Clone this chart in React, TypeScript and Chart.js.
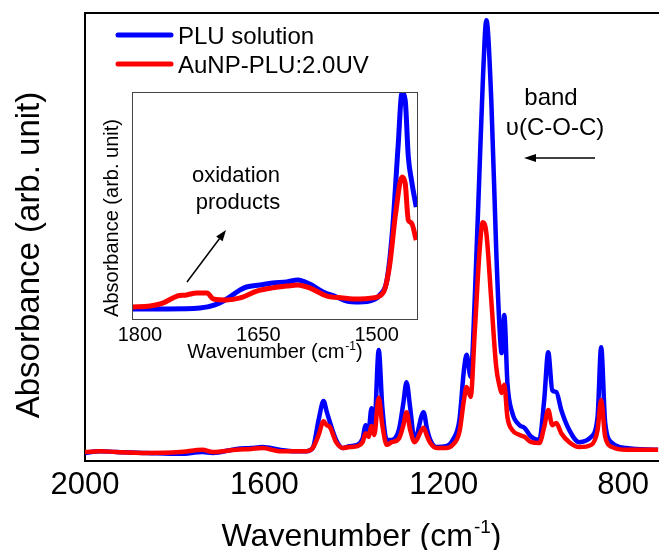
import React, { useEffect, useRef } from "react";
import { Chart, registerables } from "chart.js";

Chart.register(...registerables);

const FONT = "'Liberation Sans', Arial, sans-serif";

// ---------- main spectrum ----------
const MAIN_WN = [
  2000, 1967, 1930, 1862, 1788, 1738, 1715, 1662, 1630, 1604, 1566, 1530, 1506, 1492, 1479, 1468, 1461, 1454,
  1440, 1425, 1410, 1392, 1381, 1374, 1368, 1361, 1355, 1345, 1337, 1327, 1316, 1300, 1290, 1283, 1275, 1265,
  1245, 1237, 1230, 1216, 1195, 1180, 1165, 1155, 1149, 1140, 1131, 1120, 1113, 1105, 1094, 1083, 1075, 1071,
  1065, 1058, 1047, 1031, 1020, 1005, 987, 976, 967, 958, 949, 938, 920, 898, 871, 857, 849, 840, 824, 793, 722,
];
const MAIN_PLU = [
  0.018, 0.022, 0.02, 0.018, 0.016, 0.02, 0.018, 0.027, 0.029, 0.031, 0.025, 0.022, 0.022, 0.029, 0.092, 0.134, 0.11, 0.087,
  0.047, 0.029, 0.033, 0.036, 0.05, 0.08, 0.065, 0.118, 0.074, 0.248, 0.12, 0.047, 0.047, 0.07, 0.13, 0.176, 0.12, 0.047,
  0.109, 0.07, 0.047, 0.031, 0.033, 0.047, 0.092, 0.203, 0.237, 0.188, 0.359, 0.656, 0.844, 0.984, 0.806, 0.471, 0.286, 0.241,
  0.326, 0.174, 0.107, 0.08, 0.074, 0.054, 0.047, 0.136, 0.243, 0.158, 0.154, 0.114, 0.069, 0.042, 0.054, 0.098, 0.254, 0.085, 0.04, 0.029, 0.025,
];
const MAIN_AUNP = [
  0.02, 0.022, 0.02, 0.018, 0.02, 0.025, 0.02, 0.025, 0.027, 0.029, 0.022, 0.022, 0.022, 0.029, 0.058, 0.089, 0.08, 0.076,
  0.042, 0.029, 0.031, 0.033, 0.042, 0.062, 0.054, 0.078, 0.058, 0.141, 0.08, 0.036, 0.042, 0.05, 0.08, 0.109, 0.07, 0.042,
  0.074, 0.055, 0.04, 0.029, 0.029, 0.036, 0.065, 0.136, 0.165, 0.143, 0.286, 0.471, 0.533, 0.509, 0.359, 0.21, 0.165, 0.152,
  0.17, 0.098, 0.069, 0.058, 0.054, 0.042, 0.04, 0.076, 0.114, 0.08, 0.085, 0.062, 0.042, 0.031, 0.036, 0.069, 0.136, 0.054, 0.031, 0.025, 0.025,
];
const MAIN_TICKS = [2000, 1600, 1200, 800];

// ---------- inset (1810 - 1449 cm-1) ----------
const INSET_PLU_WN = [
  1810, 1766, 1724, 1705, 1690, 1673, 1665, 1648, 1632, 1614, 1600, 1585, 1568, 1551, 1538, 1522, 1505, 1496, 1487,
  1480, 1473, 1468, 1464, 1460, 1456, 1450,
];
const INSET_PLU = [
  0.044, 0.044, 0.048, 0.062, 0.088, 0.128, 0.141, 0.15, 0.159, 0.163, 0.172, 0.154, 0.119, 0.097, 0.079, 0.075, 0.084, 0.106, 0.172,
  0.392, 0.758, 0.996, 0.965, 0.714, 0.612, 0.493,
];
const INSET_AUNP_WN = [
  1810, 1787, 1771, 1753, 1741, 1728, 1715, 1707, 1690, 1673, 1652, 1632, 1614, 1600, 1585, 1563, 1543, 1522, 1505,
  1492, 1484, 1476, 1468, 1464, 1460, 1456, 1450,
];
const INSET_AUNP = [
  0.053, 0.057, 0.07, 0.101, 0.106, 0.115, 0.115, 0.088, 0.084, 0.093, 0.123, 0.137, 0.145, 0.15, 0.137, 0.101, 0.093, 0.088, 0.093,
  0.115, 0.229, 0.467, 0.626, 0.599, 0.436, 0.423, 0.348,
];
const INSET_TICKS = [1800, 1650, 1500];

const SERIES_NAMES = ["PLU solution", "AuNP-PLU:2.0UV"];
const BLUE = "#0000ff";
const RED = "#ff0000";

function pts(xs: number[], ys: number[]) {
  return xs.map((x, i) => ({ x, y: ys[i] }));
}

function drawWaveTitle(ctx: CanvasRenderingContext2D, cx: number, baseline: number, size: number) {
  const main = "Wavenumber (cm";
  const sup = "-1";
  const end = ")";
  ctx.save();
  ctx.fillStyle = "#000";
  ctx.textBaseline = "alphabetic";
  ctx.textAlign = "left";
  ctx.font = `${size}px ${FONT}`;
  const w1 = ctx.measureText(main).width;
  const w3 = ctx.measureText(end).width;
  const supSize = Math.round(size * 0.6);
  ctx.font = `${supSize}px ${FONT}`;
  const w2 = ctx.measureText(sup).width;
  let x = cx - (w1 + w2 + w3) / 2;
  ctx.font = `${size}px ${FONT}`;
  ctx.fillText(main, x, baseline);
  x += w1;
  ctx.font = `${supSize}px ${FONT}`;
  ctx.fillText(sup, x + 1, baseline - size * 0.42);
  x += w2 + 1;
  ctx.font = `${size}px ${FONT}`;
  ctx.fillText(end, x, baseline);
  ctx.restore();
}

function drawRotated(ctx: CanvasRenderingContext2D, text: string, x: number, y: number, size: number) {
  ctx.save();
  ctx.translate(x, y);
  ctx.rotate(-Math.PI / 2);
  ctx.font = `${size}px ${FONT}`;
  ctx.fillStyle = "#000";
  ctx.textAlign = "center";
  ctx.textBaseline = "alphabetic";
  ctx.fillText(text, 0, 0);
  ctx.restore();
}

function drawArrow(ctx: CanvasRenderingContext2D, x1: number, y1: number, x2: number, y2: number, head: number, half: number) {
  const a = Math.atan2(y2 - y1, x2 - x1);
  const bx = x2 - head * Math.cos(a);
  const by = y2 - head * Math.sin(a);
  ctx.save();
  ctx.strokeStyle = "#000";
  ctx.fillStyle = "#000";
  ctx.lineWidth = 1.5;
  ctx.beginPath();
  ctx.moveTo(x1, y1);
  ctx.lineTo(bx, by);
  ctx.stroke();
  ctx.beginPath();
  ctx.moveTo(x2, y2);
  ctx.lineTo(bx + half * Math.sin(a), by - half * Math.cos(a));
  ctx.lineTo(bx - half * Math.sin(a), by + half * Math.cos(a));
  ctx.closePath();
  ctx.fill();
  ctx.restore();
}

const mainDecor = {
  id: "mainDecor",
  afterDraw(chart: any) {
    const ctx: CanvasRenderingContext2D = chart.ctx;
    const ca = chart.chartArea;
    ctx.save();
    // top frame line
    ctx.strokeStyle = "#000";
    ctx.lineWidth = 2;
    ctx.beginPath();
    ctx.moveTo(ca.left - 1, ca.top);
    ctx.lineTo(ca.right, ca.top);
    ctx.stroke();

    // legend
    const colors = [BLUE, RED];
    const ys = [35, 64];
    ctx.lineCap = "round";
    ctx.lineWidth = 5;
    colors.forEach((c, i) => {
      ctx.strokeStyle = c;
      ctx.beginPath();
      ctx.moveTo(118, ys[i]);
      ctx.lineTo(171, ys[i]);
      ctx.stroke();
    });
    ctx.fillStyle = "#000";
    ctx.font = `24px ${FONT}`;
    ctx.textAlign = "left";
    ctx.textBaseline = "alphabetic";
    SERIES_NAMES.forEach((n, i) => ctx.fillText(n, 178, ys[i] + 9));

    // band annotation
    ctx.textAlign = "center";
    ctx.fillText("band", 551, 105);
    ctx.fillText("\u03c5(C-O-C)", 555, 135);
    ctx.restore();
    drawArrow(ctx, 595, 158, 524, 158, 12, 4);

    drawWaveTitle(ctx, 361, 546, 32);
    drawRotated(ctx, "Absorbance (arb. unit)", 39, 255, 33);
  },
};

const insetDecor = {
  id: "insetDecor",
  afterDraw(chart: any) {
    const ctx: CanvasRenderingContext2D = chart.ctx;
    const ca = chart.chartArea;
    ctx.save();
    ctx.strokeStyle = "#444";
    ctx.lineWidth = 1;
    ctx.strokeRect(Math.round(ca.left) + 0.5, Math.round(ca.top) + 0.5, Math.round(ca.right - ca.left), Math.round(ca.bottom - ca.top));
    ctx.fillStyle = "#000";
    ctx.font = `22px ${FONT}`;
    ctx.textAlign = "center";
    ctx.textBaseline = "alphabetic";
    ctx.fillText("oxidation", 141, 102);
    ctx.fillText("products", 143, 129);
    ctx.restore();
    drawArrow(ctx, 92, 202, 131, 150, 11, 4);
    drawWaveTitle(ctx, (ca.left + ca.right) / 2, 278, 20);
    drawRotated(ctx, "Absorbance (arb. unit)", 23, 138, 20);
  },
};

function MainChart() {
  const ref = useRef<HTMLCanvasElement | null>(null);
  useEffect(() => {
    if (!ref.current) return;
    const chart = new Chart(ref.current, {
      type: "line",
      data: {
        datasets: [
          {
            label: SERIES_NAMES[0],
            data: pts(MAIN_WN, MAIN_PLU),
            borderColor: BLUE,
            borderWidth: 4.5,
            pointRadius: 0,
            cubicInterpolationMode: "monotone",
            borderJoinStyle: "round",
            order: 1,
          },
          {
            label: SERIES_NAMES[1],
            data: pts(MAIN_WN, MAIN_AUNP),
            borderColor: RED,
            borderWidth: 4.5,
            pointRadius: 0,
            cubicInterpolationMode: "monotone",
            borderJoinStyle: "round",
            order: 0,
          },
        ],
      },
      options: {
        animation: false,
        responsive: false,
        events: [],
        layout: { padding: { left: 0, top: 13, right: 0, bottom: 0 } },
        plugins: { legend: { display: false }, tooltip: { enabled: false } },
        scales: {
          x: {
            type: "linear",
            reverse: true,
            min: 720,
            max: 2000,
            grid: { display: false, drawTicks: false },
            border: { display: true, color: "#000", width: 2 },
            ticks: {
              color: "#000",
              font: { family: FONT, size: 31 },
              padding: 6,
              maxRotation: 0,
              autoSkip: false,
              callback: (v: any) => String(v),
            },
            afterBuildTicks: (s: any) => {
              s.ticks = MAIN_TICKS.map((v) => ({ value: v }));
            },
            afterFit: (s: any) => {
              s.height = 89;
            },
          },
          y: {
            min: 0,
            max: 1,
            grid: { display: false, drawTicks: false },
            border: { display: true, color: "#000", width: 2 },
            ticks: { display: false },
            afterFit: (s: any) => {
              s.width = 85;
            },
          },
        },
      } as any,
      plugins: [mainDecor],
    });
    return () => chart.destroy();
  }, []);
  return <canvas ref={ref} width={659} height={550} style={{ position: "absolute", left: 0, top: 0 }} />;
}

function InsetChart() {
  const ref = useRef<HTMLCanvasElement | null>(null);
  useEffect(() => {
    if (!ref.current) return;
    const chart = new Chart(ref.current, {
      type: "line",
      data: {
        datasets: [
          {
            label: SERIES_NAMES[0],
            data: pts(INSET_PLU_WN, INSET_PLU),
            borderColor: BLUE,
            borderWidth: 5,
            pointRadius: 0,
            cubicInterpolationMode: "monotone",
            borderJoinStyle: "round",
            order: 1,
          },
          {
            label: SERIES_NAMES[1],
            data: pts(INSET_AUNP_WN, INSET_AUNP),
            borderColor: RED,
            borderWidth: 5,
            pointRadius: 0,
            cubicInterpolationMode: "monotone",
            borderJoinStyle: "round",
            order: 0,
          },
        ],
      },
      options: {
        animation: false,
        responsive: false,
        events: [],
        layout: { padding: { left: 0, top: 12, right: 8, bottom: 0 } },
        plugins: { legend: { display: false }, tooltip: { enabled: false } },
        scales: {
          x: {
            type: "linear",
            reverse: true,
            min: 1449,
            max: 1810,
            grid: { display: false, drawTicks: false },
            border: { display: false },
            ticks: {
              color: "#000",
              font: { family: FONT, size: 20 },
              padding: 4,
              maxRotation: 0,
              autoSkip: false,
              callback: (v: any) => String(v),
            },
            afterBuildTicks: (s: any) => {
              s.ticks = INSET_TICKS.map((v) => ({ value: v }));
            },
            afterFit: (s: any) => {
              s.height = 51;
            },
          },
          y: {
            min: 0,
            max: 1,
            grid: { display: false, drawTicks: false },
            border: { display: false },
            ticks: { display: false },
            afterFit: (s: any) => {
              s.width = 37;
            },
          },
        },
      } as any,
      plugins: [insetDecor],
    });
    return () => chart.destroy();
  }, []);
  return <canvas ref={ref} width={330} height={290} style={{ position: "absolute", left: 95, top: 80 }} />;
}

export default function App() {
  return (
    <div style={{ position: "fixed", left: 0, top: 0, width: 659, height: 550, background: "#fff", overflow: "hidden" }}>
      <MainChart />
      <InsetChart />
    </div>
  );
}
